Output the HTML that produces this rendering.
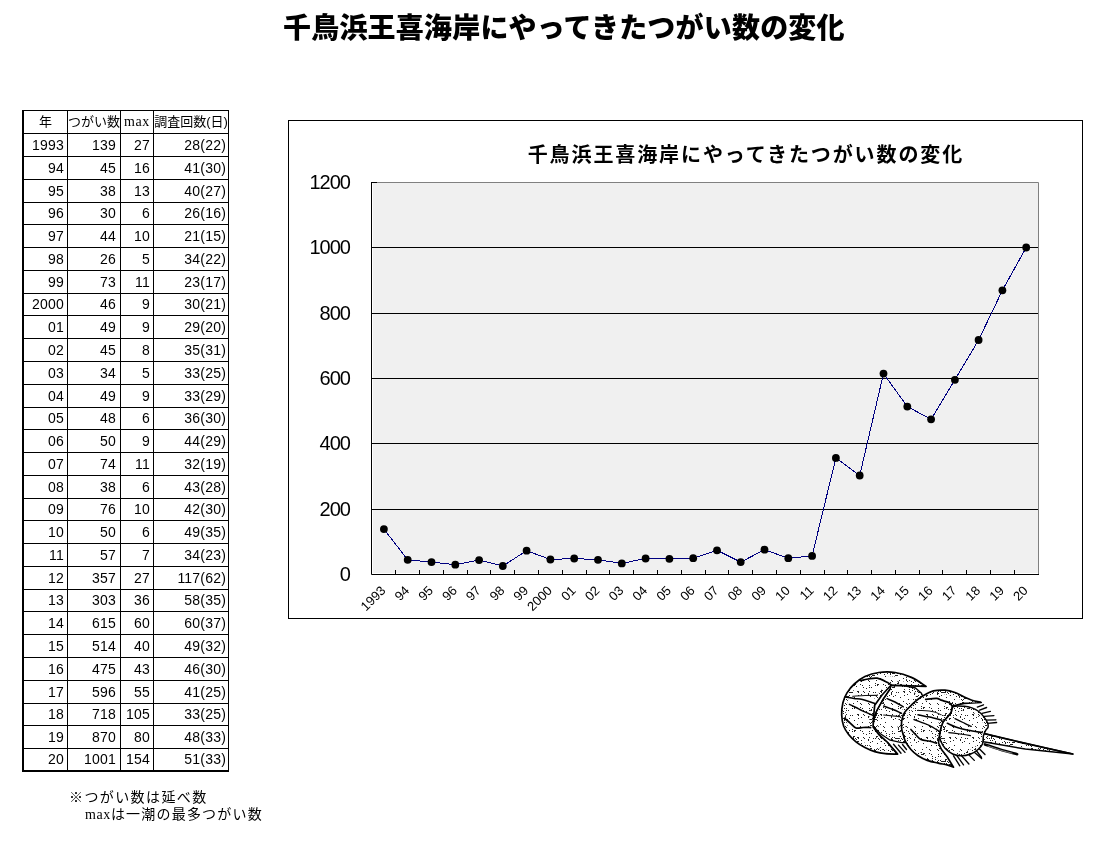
<!DOCTYPE html>
<html lang="ja"><head><meta charset="utf-8"><title>千鳥浜王喜海岸にやってきたつがい数の変化</title>
<style>
html,body{margin:0;padding:0;background:#fff;}
body{width:1103px;height:861px;position:relative;overflow:hidden;}
.t{position:absolute;}
#title{position:absolute;left:283px;top:9px;font-family:"Liberation Sans","Noto Sans CJK JP",sans-serif;font-weight:900;font-size:28px;line-height:40px;white-space:nowrap;color:#000;letter-spacing:0.2px;}
.hl{position:absolute;background:#000;height:1px;}
.vl{position:absolute;background:#000;width:1px;}
.c{position:absolute;white-space:nowrap;color:#000;font-family:"Liberation Sans","Noto Sans CJK JP",sans-serif;}
.n{font-size:14px;letter-spacing:0.2px;text-align:right;}
.hd{font-size:13px;text-align:center;font-family:"Liberation Sans","Noto Sans CJK JP",sans-serif;}
.note{position:absolute;font-family:"Liberation Sans","Noto Sans CJK JP",sans-serif;font-size:14px;line-height:17px;letter-spacing:1.2px;white-space:pre;color:#000;}
</style></head><body>
<div id="title">千鳥浜王喜海岸にやってきたつがい数の変化</div>

<div class="hl" style="left:22px;top:110px;width:207px"></div>
<div class="hl" style="left:22px;top:133px;width:207px"></div>
<div class="hl" style="left:22px;top:156px;width:207px"></div>
<div class="hl" style="left:22px;top:179px;width:207px"></div>
<div class="hl" style="left:22px;top:202px;width:207px"></div>
<div class="hl" style="left:22px;top:224px;width:207px"></div>
<div class="hl" style="left:22px;top:247px;width:207px"></div>
<div class="hl" style="left:22px;top:270px;width:207px"></div>
<div class="hl" style="left:22px;top:293px;width:207px"></div>
<div class="hl" style="left:22px;top:315px;width:207px"></div>
<div class="hl" style="left:22px;top:338px;width:207px"></div>
<div class="hl" style="left:22px;top:361px;width:207px"></div>
<div class="hl" style="left:22px;top:384px;width:207px"></div>
<div class="hl" style="left:22px;top:407px;width:207px"></div>
<div class="hl" style="left:22px;top:429px;width:207px"></div>
<div class="hl" style="left:22px;top:452px;width:207px"></div>
<div class="hl" style="left:22px;top:475px;width:207px"></div>
<div class="hl" style="left:22px;top:498px;width:207px"></div>
<div class="hl" style="left:22px;top:520px;width:207px"></div>
<div class="hl" style="left:22px;top:543px;width:207px"></div>
<div class="hl" style="left:22px;top:566px;width:207px"></div>
<div class="hl" style="left:22px;top:589px;width:207px"></div>
<div class="hl" style="left:22px;top:611px;width:207px"></div>
<div class="hl" style="left:22px;top:634px;width:207px"></div>
<div class="hl" style="left:22px;top:657px;width:207px"></div>
<div class="hl" style="left:22px;top:680px;width:207px"></div>
<div class="hl" style="left:22px;top:703px;width:207px"></div>
<div class="hl" style="left:22px;top:725px;width:207px"></div>
<div class="hl" style="left:22px;top:748px;width:207px"></div>
<div class="hl" style="left:22px;top:770px;width:207px;height:2px"></div>
<div class="vl" style="left:22px;top:110px;height:662px;width:2px"></div>
<div class="vl" style="left:67px;top:110px;height:662px"></div>
<div class="vl" style="left:120px;top:110px;height:662px"></div>
<div class="vl" style="left:153px;top:110px;height:662px"></div>
<div class="vl" style="left:228px;top:110px;height:662px"></div>
<div class="c hd" style="left:24px;width:43px;top:111px;height:22px;line-height:22px">年</div>
<div class="c hd" style="left:68px;width:52px;top:111px;height:22px;line-height:22px">つがい数</div>
<div class="c hd" style="left:121px;width:32px;top:111px;height:22px;line-height:22px"><span style="font-family:'Liberation Serif',serif;font-size:14px;letter-spacing:0.6px">max</span></div>
<div class="c hd" style="left:154px;width:74px;top:111px;height:22px;line-height:22px">調査回数(日)</div>
<div class="c n" style="left:24px;width:40px;top:134px;height:22px;line-height:22px">1993</div>
<div class="c n" style="left:68px;width:48px;top:134px;height:22px;line-height:22px">139</div>
<div class="c n" style="left:121px;width:29px;top:134px;height:22px;line-height:22px">27</div>
<div class="c n" style="left:154px;width:72px;top:134px;height:22px;line-height:22px">28(22)</div>
<div class="c n" style="left:24px;width:40px;top:157px;height:22px;line-height:22px">94</div>
<div class="c n" style="left:68px;width:48px;top:157px;height:22px;line-height:22px">45</div>
<div class="c n" style="left:121px;width:29px;top:157px;height:22px;line-height:22px">16</div>
<div class="c n" style="left:154px;width:72px;top:157px;height:22px;line-height:22px">41(30)</div>
<div class="c n" style="left:24px;width:40px;top:180px;height:22px;line-height:22px">95</div>
<div class="c n" style="left:68px;width:48px;top:180px;height:22px;line-height:22px">38</div>
<div class="c n" style="left:121px;width:29px;top:180px;height:22px;line-height:22px">13</div>
<div class="c n" style="left:154px;width:72px;top:180px;height:22px;line-height:22px">40(27)</div>
<div class="c n" style="left:24px;width:40px;top:203px;height:21px;line-height:21px">96</div>
<div class="c n" style="left:68px;width:48px;top:203px;height:21px;line-height:21px">30</div>
<div class="c n" style="left:121px;width:29px;top:203px;height:21px;line-height:21px">6</div>
<div class="c n" style="left:154px;width:72px;top:203px;height:21px;line-height:21px">26(16)</div>
<div class="c n" style="left:24px;width:40px;top:225px;height:22px;line-height:22px">97</div>
<div class="c n" style="left:68px;width:48px;top:225px;height:22px;line-height:22px">44</div>
<div class="c n" style="left:121px;width:29px;top:225px;height:22px;line-height:22px">10</div>
<div class="c n" style="left:154px;width:72px;top:225px;height:22px;line-height:22px">21(15)</div>
<div class="c n" style="left:24px;width:40px;top:248px;height:22px;line-height:22px">98</div>
<div class="c n" style="left:68px;width:48px;top:248px;height:22px;line-height:22px">26</div>
<div class="c n" style="left:121px;width:29px;top:248px;height:22px;line-height:22px">5</div>
<div class="c n" style="left:154px;width:72px;top:248px;height:22px;line-height:22px">34(22)</div>
<div class="c n" style="left:24px;width:40px;top:271px;height:22px;line-height:22px">99</div>
<div class="c n" style="left:68px;width:48px;top:271px;height:22px;line-height:22px">73</div>
<div class="c n" style="left:121px;width:29px;top:271px;height:22px;line-height:22px">11</div>
<div class="c n" style="left:154px;width:72px;top:271px;height:22px;line-height:22px">23(17)</div>
<div class="c n" style="left:24px;width:40px;top:294px;height:21px;line-height:21px">2000</div>
<div class="c n" style="left:68px;width:48px;top:294px;height:21px;line-height:21px">46</div>
<div class="c n" style="left:121px;width:29px;top:294px;height:21px;line-height:21px">9</div>
<div class="c n" style="left:154px;width:72px;top:294px;height:21px;line-height:21px">30(21)</div>
<div class="c n" style="left:24px;width:40px;top:316px;height:22px;line-height:22px">01</div>
<div class="c n" style="left:68px;width:48px;top:316px;height:22px;line-height:22px">49</div>
<div class="c n" style="left:121px;width:29px;top:316px;height:22px;line-height:22px">9</div>
<div class="c n" style="left:154px;width:72px;top:316px;height:22px;line-height:22px">29(20)</div>
<div class="c n" style="left:24px;width:40px;top:339px;height:22px;line-height:22px">02</div>
<div class="c n" style="left:68px;width:48px;top:339px;height:22px;line-height:22px">45</div>
<div class="c n" style="left:121px;width:29px;top:339px;height:22px;line-height:22px">8</div>
<div class="c n" style="left:154px;width:72px;top:339px;height:22px;line-height:22px">35(31)</div>
<div class="c n" style="left:24px;width:40px;top:362px;height:22px;line-height:22px">03</div>
<div class="c n" style="left:68px;width:48px;top:362px;height:22px;line-height:22px">34</div>
<div class="c n" style="left:121px;width:29px;top:362px;height:22px;line-height:22px">5</div>
<div class="c n" style="left:154px;width:72px;top:362px;height:22px;line-height:22px">33(25)</div>
<div class="c n" style="left:24px;width:40px;top:385px;height:22px;line-height:22px">04</div>
<div class="c n" style="left:68px;width:48px;top:385px;height:22px;line-height:22px">49</div>
<div class="c n" style="left:121px;width:29px;top:385px;height:22px;line-height:22px">9</div>
<div class="c n" style="left:154px;width:72px;top:385px;height:22px;line-height:22px">33(29)</div>
<div class="c n" style="left:24px;width:40px;top:408px;height:21px;line-height:21px">05</div>
<div class="c n" style="left:68px;width:48px;top:408px;height:21px;line-height:21px">48</div>
<div class="c n" style="left:121px;width:29px;top:408px;height:21px;line-height:21px">6</div>
<div class="c n" style="left:154px;width:72px;top:408px;height:21px;line-height:21px">36(30)</div>
<div class="c n" style="left:24px;width:40px;top:430px;height:22px;line-height:22px">06</div>
<div class="c n" style="left:68px;width:48px;top:430px;height:22px;line-height:22px">50</div>
<div class="c n" style="left:121px;width:29px;top:430px;height:22px;line-height:22px">9</div>
<div class="c n" style="left:154px;width:72px;top:430px;height:22px;line-height:22px">44(29)</div>
<div class="c n" style="left:24px;width:40px;top:453px;height:22px;line-height:22px">07</div>
<div class="c n" style="left:68px;width:48px;top:453px;height:22px;line-height:22px">74</div>
<div class="c n" style="left:121px;width:29px;top:453px;height:22px;line-height:22px">11</div>
<div class="c n" style="left:154px;width:72px;top:453px;height:22px;line-height:22px">32(19)</div>
<div class="c n" style="left:24px;width:40px;top:476px;height:22px;line-height:22px">08</div>
<div class="c n" style="left:68px;width:48px;top:476px;height:22px;line-height:22px">38</div>
<div class="c n" style="left:121px;width:29px;top:476px;height:22px;line-height:22px">6</div>
<div class="c n" style="left:154px;width:72px;top:476px;height:22px;line-height:22px">43(28)</div>
<div class="c n" style="left:24px;width:40px;top:499px;height:21px;line-height:21px">09</div>
<div class="c n" style="left:68px;width:48px;top:499px;height:21px;line-height:21px">76</div>
<div class="c n" style="left:121px;width:29px;top:499px;height:21px;line-height:21px">10</div>
<div class="c n" style="left:154px;width:72px;top:499px;height:21px;line-height:21px">42(30)</div>
<div class="c n" style="left:24px;width:40px;top:521px;height:22px;line-height:22px">10</div>
<div class="c n" style="left:68px;width:48px;top:521px;height:22px;line-height:22px">50</div>
<div class="c n" style="left:121px;width:29px;top:521px;height:22px;line-height:22px">6</div>
<div class="c n" style="left:154px;width:72px;top:521px;height:22px;line-height:22px">49(35)</div>
<div class="c n" style="left:24px;width:40px;top:544px;height:22px;line-height:22px">11</div>
<div class="c n" style="left:68px;width:48px;top:544px;height:22px;line-height:22px">57</div>
<div class="c n" style="left:121px;width:29px;top:544px;height:22px;line-height:22px">7</div>
<div class="c n" style="left:154px;width:72px;top:544px;height:22px;line-height:22px">34(23)</div>
<div class="c n" style="left:24px;width:40px;top:567px;height:22px;line-height:22px">12</div>
<div class="c n" style="left:68px;width:48px;top:567px;height:22px;line-height:22px">357</div>
<div class="c n" style="left:121px;width:29px;top:567px;height:22px;line-height:22px">27</div>
<div class="c n" style="left:154px;width:72px;top:567px;height:22px;line-height:22px">117(62)</div>
<div class="c n" style="left:24px;width:40px;top:590px;height:21px;line-height:21px">13</div>
<div class="c n" style="left:68px;width:48px;top:590px;height:21px;line-height:21px">303</div>
<div class="c n" style="left:121px;width:29px;top:590px;height:21px;line-height:21px">36</div>
<div class="c n" style="left:154px;width:72px;top:590px;height:21px;line-height:21px">58(35)</div>
<div class="c n" style="left:24px;width:40px;top:612px;height:22px;line-height:22px">14</div>
<div class="c n" style="left:68px;width:48px;top:612px;height:22px;line-height:22px">615</div>
<div class="c n" style="left:121px;width:29px;top:612px;height:22px;line-height:22px">60</div>
<div class="c n" style="left:154px;width:72px;top:612px;height:22px;line-height:22px">60(37)</div>
<div class="c n" style="left:24px;width:40px;top:635px;height:22px;line-height:22px">15</div>
<div class="c n" style="left:68px;width:48px;top:635px;height:22px;line-height:22px">514</div>
<div class="c n" style="left:121px;width:29px;top:635px;height:22px;line-height:22px">40</div>
<div class="c n" style="left:154px;width:72px;top:635px;height:22px;line-height:22px">49(32)</div>
<div class="c n" style="left:24px;width:40px;top:658px;height:22px;line-height:22px">16</div>
<div class="c n" style="left:68px;width:48px;top:658px;height:22px;line-height:22px">475</div>
<div class="c n" style="left:121px;width:29px;top:658px;height:22px;line-height:22px">43</div>
<div class="c n" style="left:154px;width:72px;top:658px;height:22px;line-height:22px">46(30)</div>
<div class="c n" style="left:24px;width:40px;top:681px;height:22px;line-height:22px">17</div>
<div class="c n" style="left:68px;width:48px;top:681px;height:22px;line-height:22px">596</div>
<div class="c n" style="left:121px;width:29px;top:681px;height:22px;line-height:22px">55</div>
<div class="c n" style="left:154px;width:72px;top:681px;height:22px;line-height:22px">41(25)</div>
<div class="c n" style="left:24px;width:40px;top:704px;height:21px;line-height:21px">18</div>
<div class="c n" style="left:68px;width:48px;top:704px;height:21px;line-height:21px">718</div>
<div class="c n" style="left:121px;width:29px;top:704px;height:21px;line-height:21px">105</div>
<div class="c n" style="left:154px;width:72px;top:704px;height:21px;line-height:21px">33(25)</div>
<div class="c n" style="left:24px;width:40px;top:726px;height:22px;line-height:22px">19</div>
<div class="c n" style="left:68px;width:48px;top:726px;height:22px;line-height:22px">870</div>
<div class="c n" style="left:121px;width:29px;top:726px;height:22px;line-height:22px">80</div>
<div class="c n" style="left:154px;width:72px;top:726px;height:22px;line-height:22px">48(33)</div>
<div class="c n" style="left:24px;width:40px;top:749px;height:21px;line-height:21px">20</div>
<div class="c n" style="left:68px;width:48px;top:749px;height:21px;line-height:21px">1001</div>
<div class="c n" style="left:121px;width:29px;top:749px;height:21px;line-height:21px">154</div>
<div class="c n" style="left:154px;width:72px;top:749px;height:21px;line-height:21px">51(33)</div>
<div class="note" style="left:69px;top:789px;letter-spacing:1.4px">※つがい数は延べ数</div>
<div class="note" style="left:85px;top:806px"><span style="font-family:'Liberation Serif',serif;font-size:14px;letter-spacing:0.6px">max</span>は一潮の最多つがい数</div>
<svg style="position:absolute;left:0;top:0" width="1103" height="861">
<rect x="288.5" y="120.5" width="794" height="498" fill="#fff" stroke="#000" stroke-width="1"/>
<rect x="373" y="183" width="665" height="390" fill="#f0f0f0"/>
<path d="M371.5 182.5H1038.5V574" fill="none" stroke="#808080" stroke-width="1"/>
<path d="M372 509.5H1038" stroke="#000" stroke-width="1"/>
<path d="M372 443.5H1038" stroke="#000" stroke-width="1"/>
<path d="M372 378.5H1038" stroke="#000" stroke-width="1"/>
<path d="M372 313.5H1038" stroke="#000" stroke-width="1"/>
<path d="M372 247.5H1038" stroke="#000" stroke-width="1"/>
<path d="M371.5 182V574.5H1039" fill="none" stroke="#000" stroke-width="1"/>
<path d="M371 182.5H377" stroke="#000" stroke-width="1"/>
<path d="M395.5 570V574" stroke="#000" stroke-width="1"/>
<path d="M419.5 570V574" stroke="#000" stroke-width="1"/>
<path d="M443.5 570V574" stroke="#000" stroke-width="1"/>
<path d="M467.5 570V574" stroke="#000" stroke-width="1"/>
<path d="M490.5 570V574" stroke="#000" stroke-width="1"/>
<path d="M514.5 570V574" stroke="#000" stroke-width="1"/>
<path d="M538.5 570V574" stroke="#000" stroke-width="1"/>
<path d="M562.5 570V574" stroke="#000" stroke-width="1"/>
<path d="M586.5 570V574" stroke="#000" stroke-width="1"/>
<path d="M609.5 570V574" stroke="#000" stroke-width="1"/>
<path d="M633.5 570V574" stroke="#000" stroke-width="1"/>
<path d="M657.5 570V574" stroke="#000" stroke-width="1"/>
<path d="M681.5 570V574" stroke="#000" stroke-width="1"/>
<path d="M705.5 570V574" stroke="#000" stroke-width="1"/>
<path d="M728.5 570V574" stroke="#000" stroke-width="1"/>
<path d="M752.5 570V574" stroke="#000" stroke-width="1"/>
<path d="M776.5 570V574" stroke="#000" stroke-width="1"/>
<path d="M800.5 570V574" stroke="#000" stroke-width="1"/>
<path d="M824.5 570V574" stroke="#000" stroke-width="1"/>
<path d="M847.5 570V574" stroke="#000" stroke-width="1"/>
<path d="M871.5 570V574" stroke="#000" stroke-width="1"/>
<path d="M895.5 570V574" stroke="#000" stroke-width="1"/>
<path d="M919.5 570V574" stroke="#000" stroke-width="1"/>
<path d="M942.5 570V574" stroke="#000" stroke-width="1"/>
<path d="M966.5 570V574" stroke="#000" stroke-width="1"/>
<path d="M990.5 570V574" stroke="#000" stroke-width="1"/>
<path d="M1014.5 570V574" stroke="#000" stroke-width="1"/>
<text x="349.9" y="580.8" text-anchor="end" font-family="Liberation Sans, sans-serif" font-size="20" letter-spacing="-1.0">0</text>
<text x="349.9" y="515.5" text-anchor="end" font-family="Liberation Sans, sans-serif" font-size="20" letter-spacing="-1.0">200</text>
<text x="349.9" y="450.1" text-anchor="end" font-family="Liberation Sans, sans-serif" font-size="20" letter-spacing="-1.0">400</text>
<text x="349.9" y="384.8" text-anchor="end" font-family="Liberation Sans, sans-serif" font-size="20" letter-spacing="-1.0">600</text>
<text x="349.9" y="319.5" text-anchor="end" font-family="Liberation Sans, sans-serif" font-size="20" letter-spacing="-1.0">800</text>
<text x="349.9" y="254.1" text-anchor="end" font-family="Liberation Sans, sans-serif" font-size="20" letter-spacing="-1.0">1000</text>
<text x="349.9" y="188.8" text-anchor="end" font-family="Liberation Sans, sans-serif" font-size="20" letter-spacing="-1.0">1200</text>
<polyline fill="none" stroke="#000080" stroke-width="1" shape-rendering="crispEdges" points="383.9,529.1 407.7,559.8 431.5,562.1 455.3,564.7 479.1,560.1 502.8,566.0 526.6,550.7 550.4,559.5 574.2,558.5 598.0,559.8 621.8,563.4 645.6,558.5 669.4,558.8 693.2,558.2 717.0,550.3 740.7,562.1 764.5,549.7 788.3,558.2 812.1,555.9 835.9,457.9 859.7,475.5 883.5,373.6 907.3,406.6 931.1,419.3 954.9,379.8 978.6,340.0 1002.4,290.3 1026.2,247.5"/>
<circle cx="383.9" cy="529.1" r="3.9" fill="#000"/>
<circle cx="407.7" cy="559.8" r="3.9" fill="#000"/>
<circle cx="431.5" cy="562.1" r="3.9" fill="#000"/>
<circle cx="455.3" cy="564.7" r="3.9" fill="#000"/>
<circle cx="479.1" cy="560.1" r="3.9" fill="#000"/>
<circle cx="502.8" cy="566.0" r="3.9" fill="#000"/>
<circle cx="526.6" cy="550.7" r="3.9" fill="#000"/>
<circle cx="550.4" cy="559.5" r="3.9" fill="#000"/>
<circle cx="574.2" cy="558.5" r="3.9" fill="#000"/>
<circle cx="598.0" cy="559.8" r="3.9" fill="#000"/>
<circle cx="621.8" cy="563.4" r="3.9" fill="#000"/>
<circle cx="645.6" cy="558.5" r="3.9" fill="#000"/>
<circle cx="669.4" cy="558.8" r="3.9" fill="#000"/>
<circle cx="693.2" cy="558.2" r="3.9" fill="#000"/>
<circle cx="717.0" cy="550.3" r="3.9" fill="#000"/>
<circle cx="740.7" cy="562.1" r="3.9" fill="#000"/>
<circle cx="764.5" cy="549.7" r="3.9" fill="#000"/>
<circle cx="788.3" cy="558.2" r="3.9" fill="#000"/>
<circle cx="812.1" cy="555.9" r="3.9" fill="#000"/>
<circle cx="835.9" cy="457.9" r="3.9" fill="#000"/>
<circle cx="859.7" cy="475.5" r="3.9" fill="#000"/>
<circle cx="883.5" cy="373.6" r="3.9" fill="#000"/>
<circle cx="907.3" cy="406.6" r="3.9" fill="#000"/>
<circle cx="931.1" cy="419.3" r="3.9" fill="#000"/>
<circle cx="954.9" cy="379.8" r="3.9" fill="#000"/>
<circle cx="978.6" cy="340.0" r="3.9" fill="#000"/>
<circle cx="1002.4" cy="290.3" r="3.9" fill="#000"/>
<circle cx="1026.2" cy="247.5" r="3.9" fill="#000"/>
<text transform="translate(379.8,584.7) rotate(-45)" text-anchor="end" dy="9.3" font-family="Liberation Sans, sans-serif" font-size="13">1993</text>
<text transform="translate(403.6,584.7) rotate(-45)" text-anchor="end" dy="9.3" font-family="Liberation Sans, sans-serif" font-size="13">94</text>
<text transform="translate(427.4,584.7) rotate(-45)" text-anchor="end" dy="9.3" font-family="Liberation Sans, sans-serif" font-size="13">95</text>
<text transform="translate(451.2,584.7) rotate(-45)" text-anchor="end" dy="9.3" font-family="Liberation Sans, sans-serif" font-size="13">96</text>
<text transform="translate(475.0,584.7) rotate(-45)" text-anchor="end" dy="9.3" font-family="Liberation Sans, sans-serif" font-size="13">97</text>
<text transform="translate(498.7,584.7) rotate(-45)" text-anchor="end" dy="9.3" font-family="Liberation Sans, sans-serif" font-size="13">98</text>
<text transform="translate(522.5,584.7) rotate(-45)" text-anchor="end" dy="9.3" font-family="Liberation Sans, sans-serif" font-size="13">99</text>
<text transform="translate(546.3,584.7) rotate(-45)" text-anchor="end" dy="9.3" font-family="Liberation Sans, sans-serif" font-size="13">2000</text>
<text transform="translate(570.1,584.7) rotate(-45)" text-anchor="end" dy="9.3" font-family="Liberation Sans, sans-serif" font-size="13">01</text>
<text transform="translate(593.9,584.7) rotate(-45)" text-anchor="end" dy="9.3" font-family="Liberation Sans, sans-serif" font-size="13">02</text>
<text transform="translate(617.7,584.7) rotate(-45)" text-anchor="end" dy="9.3" font-family="Liberation Sans, sans-serif" font-size="13">03</text>
<text transform="translate(641.5,584.7) rotate(-45)" text-anchor="end" dy="9.3" font-family="Liberation Sans, sans-serif" font-size="13">04</text>
<text transform="translate(665.3,584.7) rotate(-45)" text-anchor="end" dy="9.3" font-family="Liberation Sans, sans-serif" font-size="13">05</text>
<text transform="translate(689.1,584.7) rotate(-45)" text-anchor="end" dy="9.3" font-family="Liberation Sans, sans-serif" font-size="13">06</text>
<text transform="translate(712.9,584.7) rotate(-45)" text-anchor="end" dy="9.3" font-family="Liberation Sans, sans-serif" font-size="13">07</text>
<text transform="translate(736.6,584.7) rotate(-45)" text-anchor="end" dy="9.3" font-family="Liberation Sans, sans-serif" font-size="13">08</text>
<text transform="translate(760.4,584.7) rotate(-45)" text-anchor="end" dy="9.3" font-family="Liberation Sans, sans-serif" font-size="13">09</text>
<text transform="translate(784.2,584.7) rotate(-45)" text-anchor="end" dy="9.3" font-family="Liberation Sans, sans-serif" font-size="13">10</text>
<text transform="translate(808.0,584.7) rotate(-45)" text-anchor="end" dy="9.3" font-family="Liberation Sans, sans-serif" font-size="13">11</text>
<text transform="translate(831.8,584.7) rotate(-45)" text-anchor="end" dy="9.3" font-family="Liberation Sans, sans-serif" font-size="13">12</text>
<text transform="translate(855.6,584.7) rotate(-45)" text-anchor="end" dy="9.3" font-family="Liberation Sans, sans-serif" font-size="13">13</text>
<text transform="translate(879.4,584.7) rotate(-45)" text-anchor="end" dy="9.3" font-family="Liberation Sans, sans-serif" font-size="13">14</text>
<text transform="translate(903.2,584.7) rotate(-45)" text-anchor="end" dy="9.3" font-family="Liberation Sans, sans-serif" font-size="13">15</text>
<text transform="translate(927.0,584.7) rotate(-45)" text-anchor="end" dy="9.3" font-family="Liberation Sans, sans-serif" font-size="13">16</text>
<text transform="translate(950.8,584.7) rotate(-45)" text-anchor="end" dy="9.3" font-family="Liberation Sans, sans-serif" font-size="13">17</text>
<text transform="translate(974.5,584.7) rotate(-45)" text-anchor="end" dy="9.3" font-family="Liberation Sans, sans-serif" font-size="13">18</text>
<text transform="translate(998.3,584.7) rotate(-45)" text-anchor="end" dy="9.3" font-family="Liberation Sans, sans-serif" font-size="13">19</text>
<text transform="translate(1022.1,584.7) rotate(-45)" text-anchor="end" dy="9.3" font-family="Liberation Sans, sans-serif" font-size="13">20</text>
<defs><pattern id="st" width="23" height="23" patternUnits="userSpaceOnUse"><g fill="#222"><rect x="1" y="2" width="1" height="1"/><rect x="1" y="16" width="1" height="1"/><rect x="1" y="18" width="1" height="1"/><rect x="2" y="13" width="1" height="1"/><rect x="3" y="7" width="1" height="1"/><rect x="3" y="17" width="1" height="1"/><rect x="3" y="18" width="1" height="1"/><rect x="4" y="17" width="1" height="1"/><rect x="6" y="1" width="1" height="1"/><rect x="6" y="11" width="1" height="1"/><rect x="7" y="1" width="1" height="1"/><rect x="7" y="2" width="1" height="1"/><rect x="7" y="5" width="1" height="1"/><rect x="9" y="13" width="1" height="1"/><rect x="9" y="17" width="1" height="1"/><rect x="10" y="4" width="1" height="1"/><rect x="10" y="14" width="1" height="1"/><rect x="11" y="9" width="1" height="1"/><rect x="11" y="18" width="1" height="1"/><rect x="12" y="1" width="1" height="1"/><rect x="12" y="20" width="1" height="1"/><rect x="13" y="2" width="1" height="1"/><rect x="15" y="21" width="1" height="1"/><rect x="17" y="3" width="1" height="1"/><rect x="17" y="4" width="1" height="1"/><rect x="17" y="13" width="1" height="1"/><rect x="18" y="1" width="1" height="1"/><rect x="18" y="14" width="1" height="1"/><rect x="18" y="18" width="1" height="1"/><rect x="18" y="20" width="1" height="1"/><rect x="19" y="6" width="1" height="1"/><rect x="20" y="20" width="1" height="1"/><rect x="21" y="5" width="1" height="1"/><rect x="22" y="2" width="1" height="1"/></g></pattern></defs>
<defs><pattern id="st2" width="23" height="23" patternUnits="userSpaceOnUse"><g fill="#222"><rect x="0" y="2" width="1" height="1"/><rect x="0" y="6" width="1" height="1"/><rect x="0" y="8" width="1" height="1"/><rect x="0" y="13" width="1" height="1"/><rect x="0" y="14" width="1" height="1"/><rect x="0" y="16" width="1" height="1"/><rect x="1" y="4" width="1" height="1"/><rect x="1" y="6" width="1" height="1"/><rect x="1" y="14" width="1" height="1"/><rect x="1" y="15" width="1" height="1"/><rect x="2" y="0" width="1" height="1"/><rect x="2" y="1" width="1" height="1"/><rect x="2" y="2" width="1" height="1"/><rect x="2" y="6" width="1" height="1"/><rect x="2" y="18" width="1" height="1"/><rect x="3" y="0" width="1" height="1"/><rect x="3" y="4" width="1" height="1"/><rect x="3" y="12" width="1" height="1"/><rect x="4" y="2" width="1" height="1"/><rect x="4" y="13" width="1" height="1"/><rect x="5" y="3" width="1" height="1"/><rect x="5" y="12" width="1" height="1"/><rect x="5" y="19" width="1" height="1"/><rect x="6" y="5" width="1" height="1"/><rect x="6" y="6" width="1" height="1"/><rect x="6" y="14" width="1" height="1"/><rect x="7" y="0" width="1" height="1"/><rect x="7" y="19" width="1" height="1"/><rect x="7" y="22" width="1" height="1"/><rect x="8" y="0" width="1" height="1"/><rect x="8" y="13" width="1" height="1"/><rect x="9" y="10" width="1" height="1"/><rect x="9" y="12" width="1" height="1"/><rect x="10" y="2" width="1" height="1"/><rect x="10" y="7" width="1" height="1"/><rect x="10" y="14" width="1" height="1"/><rect x="12" y="3" width="1" height="1"/><rect x="12" y="13" width="1" height="1"/><rect x="12" y="22" width="1" height="1"/><rect x="13" y="6" width="1" height="1"/><rect x="14" y="9" width="1" height="1"/><rect x="14" y="14" width="1" height="1"/><rect x="14" y="17" width="1" height="1"/><rect x="14" y="20" width="1" height="1"/><rect x="15" y="0" width="1" height="1"/><rect x="15" y="5" width="1" height="1"/><rect x="16" y="6" width="1" height="1"/><rect x="16" y="7" width="1" height="1"/><rect x="16" y="9" width="1" height="1"/><rect x="16" y="15" width="1" height="1"/><rect x="16" y="18" width="1" height="1"/><rect x="17" y="2" width="1" height="1"/><rect x="17" y="22" width="1" height="1"/><rect x="18" y="3" width="1" height="1"/><rect x="18" y="6" width="1" height="1"/><rect x="18" y="9" width="1" height="1"/><rect x="18" y="20" width="1" height="1"/><rect x="19" y="10" width="1" height="1"/><rect x="19" y="12" width="1" height="1"/><rect x="19" y="20" width="1" height="1"/><rect x="20" y="1" width="1" height="1"/><rect x="20" y="6" width="1" height="1"/><rect x="20" y="9" width="1" height="1"/><rect x="20" y="12" width="1" height="1"/><rect x="20" y="19" width="1" height="1"/><rect x="21" y="0" width="1" height="1"/><rect x="21" y="2" width="1" height="1"/><rect x="21" y="8" width="1" height="1"/><rect x="21" y="17" width="1" height="1"/><rect x="22" y="8" width="1" height="1"/></g></pattern></defs>
<clipPath id="cp1"><path d="M891.0,685.6 L903.3,685.6 L915.5,688.0 L921.2,692.9 L922.9,696.2 L911.4,705.2 L903.3,715.0 L901.6,726.0 L903.3,734.5 L905.7,742.6 L901.6,742.6 L890.2,740.2 L880.4,733.7 L873.1,726.3 L873.9,719.8 L876.3,711.7 L883.0,699.0 L890.2,688.8 Z"/></clipPath>
<path d="M891.0,685.6 L903.3,685.6 L915.5,688.0 L921.2,692.9 L922.9,696.2 L911.4,705.2 L903.3,715.0 L901.6,726.0 L903.3,734.5 L905.7,742.6 L901.6,742.6 L890.2,740.2 L880.4,733.7 L873.1,726.3 L873.9,719.8 L876.3,711.7 L883.0,699.0 L890.2,688.8 Z" fill="#fff"/><path d="M891.0,685.6 L903.3,685.6 L915.5,688.0 L921.2,692.9 L922.9,696.2 L911.4,705.2 L903.3,715.0 L901.6,726.0 L903.3,734.5 L905.7,742.6 L901.6,742.6 L890.2,740.2 L880.4,733.7 L873.1,726.3 L873.9,719.8 L876.3,711.7 L883.0,699.0 L890.2,688.8 Z" fill="url(#st)"/>
<path d="M891.0,685.6 L903.3,685.6 L915.5,688.0 L921.2,692.9 L922.9,696.2 L911.4,705.2 L903.3,715.0 L901.6,726.0 L903.3,734.5 L905.7,742.6 L901.6,742.6 L890.2,740.2 L880.4,733.7 L873.1,726.3 L873.9,719.8 L876.3,711.7 L883.0,699.0 L890.2,688.8 Z" fill="none" stroke="url(#st2)" stroke-width="8" clip-path="url(#cp1)"/>
<path d="M891.0,685.6 L903.3,685.6 L915.5,688.0 L921.2,692.9 L922.9,696.2 L911.4,705.2 L903.3,715.0 L901.6,726.0 L903.3,734.5 L905.7,742.6 L901.6,742.6 L890.2,740.2 L880.4,733.7 L873.1,726.3 L873.9,719.8 L876.3,711.7 L883.0,699.0 L890.2,688.8 Z" fill="none" stroke="#000" stroke-width="1.3" stroke-linejoin="round"/>
<clipPath id="cp2"><path d="M926.1,686.4 C923.6,684.9 916.6,679.7 911.4,677.4 C906.2,675.1 900.5,673.3 895.1,672.5 C889.7,671.7 883.8,671.8 878.8,672.5 C873.8,673.2 869.0,674.7 864.9,676.6 C860.8,678.5 857.3,681.3 854.3,684.0 C851.3,686.7 848.9,689.8 847.0,692.9 C845.1,696.0 843.8,699.0 842.9,702.7 C842.0,706.4 841.6,711.1 841.7,715.0 C841.8,718.9 842.6,723.0 843.7,726.3 C844.9,729.5 846.6,731.9 848.6,734.5 C850.6,737.1 853.3,739.6 856.0,741.8 C858.7,744.0 861.8,745.9 864.9,747.5 C868.0,749.1 871.3,750.6 874.7,751.6 C878.1,752.6 881.5,753.3 885.3,753.7 C889.1,754.1 895.5,754.0 897.6,754.1 L887.0,741.8 L878.8,734.5 L873.1,727.1 L873.3,719.8 L874.7,705.2 L882.0,695.0 L891.0,685.2 L910.0,685.8 L926.1,686.4 Z"/></clipPath>
<path d="M926.1,686.4 C923.6,684.9 916.6,679.7 911.4,677.4 C906.2,675.1 900.5,673.3 895.1,672.5 C889.7,671.7 883.8,671.8 878.8,672.5 C873.8,673.2 869.0,674.7 864.9,676.6 C860.8,678.5 857.3,681.3 854.3,684.0 C851.3,686.7 848.9,689.8 847.0,692.9 C845.1,696.0 843.8,699.0 842.9,702.7 C842.0,706.4 841.6,711.1 841.7,715.0 C841.8,718.9 842.6,723.0 843.7,726.3 C844.9,729.5 846.6,731.9 848.6,734.5 C850.6,737.1 853.3,739.6 856.0,741.8 C858.7,744.0 861.8,745.9 864.9,747.5 C868.0,749.1 871.3,750.6 874.7,751.6 C878.1,752.6 881.5,753.3 885.3,753.7 C889.1,754.1 895.5,754.0 897.6,754.1 L887.0,741.8 L878.8,734.5 L873.1,727.1 L873.3,719.8 L874.7,705.2 L882.0,695.0 L891.0,685.2 L910.0,685.8 L926.1,686.4 Z" fill="#fff"/><path d="M926.1,686.4 C923.6,684.9 916.6,679.7 911.4,677.4 C906.2,675.1 900.5,673.3 895.1,672.5 C889.7,671.7 883.8,671.8 878.8,672.5 C873.8,673.2 869.0,674.7 864.9,676.6 C860.8,678.5 857.3,681.3 854.3,684.0 C851.3,686.7 848.9,689.8 847.0,692.9 C845.1,696.0 843.8,699.0 842.9,702.7 C842.0,706.4 841.6,711.1 841.7,715.0 C841.8,718.9 842.6,723.0 843.7,726.3 C844.9,729.5 846.6,731.9 848.6,734.5 C850.6,737.1 853.3,739.6 856.0,741.8 C858.7,744.0 861.8,745.9 864.9,747.5 C868.0,749.1 871.3,750.6 874.7,751.6 C878.1,752.6 881.5,753.3 885.3,753.7 C889.1,754.1 895.5,754.0 897.6,754.1 L887.0,741.8 L878.8,734.5 L873.1,727.1 L873.3,719.8 L874.7,705.2 L882.0,695.0 L891.0,685.2 L910.0,685.8 L926.1,686.4 Z" fill="url(#st)"/>
<path d="M926.1,686.4 C923.6,684.9 916.6,679.7 911.4,677.4 C906.2,675.1 900.5,673.3 895.1,672.5 C889.7,671.7 883.8,671.8 878.8,672.5 C873.8,673.2 869.0,674.7 864.9,676.6 C860.8,678.5 857.3,681.3 854.3,684.0 C851.3,686.7 848.9,689.8 847.0,692.9 C845.1,696.0 843.8,699.0 842.9,702.7 C842.0,706.4 841.6,711.1 841.7,715.0 C841.8,718.9 842.6,723.0 843.7,726.3 C844.9,729.5 846.6,731.9 848.6,734.5 C850.6,737.1 853.3,739.6 856.0,741.8 C858.7,744.0 861.8,745.9 864.9,747.5 C868.0,749.1 871.3,750.6 874.7,751.6 C878.1,752.6 881.5,753.3 885.3,753.7 C889.1,754.1 895.5,754.0 897.6,754.1 L887.0,741.8 L878.8,734.5 L873.1,727.1 L873.3,719.8 L874.7,705.2 L882.0,695.0 L891.0,685.2 L910.0,685.8 L926.1,686.4 Z" fill="none" stroke="url(#st2)" stroke-width="8" clip-path="url(#cp2)"/>
<path d="M926.1,686.4 C923.6,684.9 916.6,679.7 911.4,677.4 C906.2,675.1 900.5,673.3 895.1,672.5 C889.7,671.7 883.8,671.8 878.8,672.5 C873.8,673.2 869.0,674.7 864.9,676.6 C860.8,678.5 857.3,681.3 854.3,684.0 C851.3,686.7 848.9,689.8 847.0,692.9 C845.1,696.0 843.8,699.0 842.9,702.7 C842.0,706.4 841.6,711.1 841.7,715.0 C841.8,718.9 842.6,723.0 843.7,726.3 C844.9,729.5 846.6,731.9 848.6,734.5 C850.6,737.1 853.3,739.6 856.0,741.8 C858.7,744.0 861.8,745.9 864.9,747.5 C868.0,749.1 871.3,750.6 874.7,751.6 C878.1,752.6 881.5,753.3 885.3,753.7 C889.1,754.1 895.5,754.0 897.6,754.1 L887.0,741.8 L878.8,734.5 L873.1,727.1 L873.3,719.8 L874.7,705.2 L882.0,695.0 L891.0,685.2 L910.0,685.8 L926.1,686.4 Z" fill="none" stroke="#000" stroke-width="1.7" stroke-linejoin="round"/>
<path d="M890.2,688.8 C889.0,690.7 885.3,696.2 883.0,700.0 C880.7,703.8 877.8,708.4 876.3,711.7 C874.8,715.0 874.2,718.6 873.8,720.0" fill="none" stroke="#000" stroke-width="1.55" stroke-linecap="round"/>
<path d="M860.8,680.7 C862.0,680.4 865.3,679.4 868.0,679.0 C870.7,678.6 874.0,677.7 877.2,678.2 C880.4,678.8 884.7,681.2 887.0,682.3 C889.3,683.4 890.3,684.4 891.0,684.8" fill="none" stroke="#000" stroke-width="1.75" stroke-linecap="round"/>
<path d="M845.3,697.0 C846.8,697.2 851.1,698.1 854.0,698.5 C856.9,698.9 859.0,698.7 862.5,699.5 C866.0,700.3 872.7,702.8 874.7,703.5" fill="none" stroke="#000" stroke-width="1.65" stroke-linecap="round"/>
<path d="M852.7,696.2 C854.8,696.1 860.9,695.6 865.0,695.5 C869.1,695.4 875.2,695.4 877.2,695.4" fill="none" stroke="#111" stroke-width="1.10" stroke-linecap="round"/>
<path d="M849.4,704.3 C850.5,704.8 853.8,706.4 856.0,707.5 C858.2,708.6 859.8,709.6 862.5,710.9 C865.2,712.1 870.7,714.3 872.3,715.0" fill="none" stroke="#000" stroke-width="1.45" stroke-linecap="round"/>
<path d="M844.5,718.2 C845.5,719.0 848.3,721.5 850.2,723.1 C852.1,724.7 853.9,727.3 856.0,728.0 C858.1,728.7 860.6,727.6 863.0,727.5 C865.4,727.4 869.3,727.5 870.6,727.5" fill="none" stroke="#000" stroke-width="1.75" stroke-linecap="round"/>
<path d="M887.0,698.6 C888.3,699.2 892.3,700.6 895.0,702.0 C897.7,703.4 901.9,706.0 903.3,706.8" fill="none" stroke="#000" stroke-width="1.45" stroke-linecap="round"/>
<path d="M883.7,706.0 C885.2,706.6 890.0,708.3 893.0,709.5 C896.0,710.7 900.2,712.7 901.6,713.3" fill="none" stroke="#000" stroke-width="1.45" stroke-linecap="round"/>
<path d="M883.7,715.0 L900.0,716.6" fill="none" stroke="#111" stroke-width="1.20" stroke-linecap="round"/>
<path d="M893.5,744.3 L901.0,753.2" fill="none" stroke="#000" stroke-width="1.35" stroke-linecap="round"/>
<path d="M898.5,745.1 L905.0,752.4" fill="none" stroke="#000" stroke-width="1.35" stroke-linecap="round"/>
<path d="M902.5,744.5 L906.5,749.5" fill="none" stroke="#000" stroke-width="1.35" stroke-linecap="round"/>
<path d="M888.0,743.0 L896.5,753.0" fill="none" stroke="#000" stroke-width="1.35" stroke-linecap="round"/>
<path d="M982.3,733.0 L1030.0,744.3 L1072.8,754.0 L1025.3,749.0 L983.4,741.8 Z" fill="#fff"/><path d="M982.3,733.0 L1030.0,744.3 L1072.8,754.0 L1025.3,749.0 L983.4,741.8 Z" fill="url(#st2)" stroke="#000" stroke-width="1.5" stroke-linejoin="round"/>
<path d="M983.0,733.4 C990.8,735.3 1015.0,741.2 1030.0,744.6 C1045.0,748.0 1065.7,752.4 1072.8,754.0" fill="none" stroke="#000" stroke-width="1.55" stroke-linecap="round"/>
<path d="M985.0,744.4 C987.5,745.2 994.6,747.9 1000.0,749.5 C1005.4,751.1 1014.2,753.4 1017.1,754.2" fill="none" stroke="#000" stroke-width="2.65" stroke-linecap="round"/>
<path d="M988.0,746.0 C990.0,746.7 996.0,748.8 1000.0,750.0 C1004.0,751.2 1010.0,752.7 1012.0,753.2" fill="none" stroke="#bbb" stroke-width="0.70" stroke-linecap="round"/>
<path d="M975.5,749.5 L981.5,757.5" fill="none" stroke="#000" stroke-width="1.35" stroke-linecap="round"/>
<path d="M978.5,748.0 L985.0,754.5" fill="none" stroke="#000" stroke-width="1.35" stroke-linecap="round"/>
<path d="M977.3,707.1 L983.5,704.8" fill="none" stroke="#000" stroke-width="1.35" stroke-linecap="round"/>
<path d="M979.7,710.2 L986.6,707.5" fill="none" stroke="#000" stroke-width="1.35" stroke-linecap="round"/>
<path d="M982.0,713.3 L990.4,711.4" fill="none" stroke="#000" stroke-width="1.35" stroke-linecap="round"/>
<path d="M984.3,716.4 L993.9,715.6" fill="none" stroke="#000" stroke-width="1.35" stroke-linecap="round"/>
<path d="M985.8,720.2 L995.8,719.8" fill="none" stroke="#000" stroke-width="1.35" stroke-linecap="round"/>
<path d="M987.4,723.3 L996.6,722.5" fill="none" stroke="#000" stroke-width="1.35" stroke-linecap="round"/>
<path d="M953.5,755.8 L959.8,765.8" fill="none" stroke="#000" stroke-width="1.35" stroke-linecap="round"/>
<path d="M957.1,755.8 L963.5,764.9" fill="none" stroke="#000" stroke-width="1.35" stroke-linecap="round"/>
<path d="M961.6,755.8 L968.9,764.0" fill="none" stroke="#000" stroke-width="1.35" stroke-linecap="round"/>
<path d="M968.9,754.9 L974.3,760.4" fill="none" stroke="#000" stroke-width="1.35" stroke-linecap="round"/>
<path d="M974.3,752.2 L981.6,758.5" fill="none" stroke="#000" stroke-width="1.35" stroke-linecap="round"/>
<clipPath id="cp3"><path d="M953.4,706.5 C955.6,705.5 961.1,706.1 964.2,706.3 C967.3,706.5 969.6,707.1 971.9,707.9 C974.2,708.7 976.2,709.6 978.1,711.0 C980.0,712.4 982.0,714.5 983.5,716.4 C985.0,718.3 986.6,720.7 987.4,722.5 C988.2,724.3 988.4,725.9 988.1,727.2 C987.8,728.5 986.6,728.8 985.8,730.2 C985.0,731.7 983.9,733.6 983.4,735.9 C982.9,738.2 983.4,741.7 982.5,744.0 C981.6,746.3 980.0,747.8 978.0,749.5 C976.0,751.2 973.4,753.0 970.7,754.0 C968.0,755.0 964.6,755.8 961.6,755.8 C958.6,755.8 955.3,755.2 952.6,754.0 C949.9,752.8 947.3,750.7 945.3,748.6 C943.3,746.5 941.8,743.6 940.8,741.3 C939.8,739.0 939.5,737.4 939.5,735.0 C939.5,732.6 940.5,729.4 941.1,727.2 C941.7,725.0 942.0,723.7 943.0,722.0 C944.0,720.3 945.9,718.7 947.3,717.1 C948.6,715.5 950.1,714.3 951.1,712.5 C952.1,710.7 951.2,707.5 953.4,706.5 Z"/></clipPath>
<path d="M953.4,706.5 C955.6,705.5 961.1,706.1 964.2,706.3 C967.3,706.5 969.6,707.1 971.9,707.9 C974.2,708.7 976.2,709.6 978.1,711.0 C980.0,712.4 982.0,714.5 983.5,716.4 C985.0,718.3 986.6,720.7 987.4,722.5 C988.2,724.3 988.4,725.9 988.1,727.2 C987.8,728.5 986.6,728.8 985.8,730.2 C985.0,731.7 983.9,733.6 983.4,735.9 C982.9,738.2 983.4,741.7 982.5,744.0 C981.6,746.3 980.0,747.8 978.0,749.5 C976.0,751.2 973.4,753.0 970.7,754.0 C968.0,755.0 964.6,755.8 961.6,755.8 C958.6,755.8 955.3,755.2 952.6,754.0 C949.9,752.8 947.3,750.7 945.3,748.6 C943.3,746.5 941.8,743.6 940.8,741.3 C939.8,739.0 939.5,737.4 939.5,735.0 C939.5,732.6 940.5,729.4 941.1,727.2 C941.7,725.0 942.0,723.7 943.0,722.0 C944.0,720.3 945.9,718.7 947.3,717.1 C948.6,715.5 950.1,714.3 951.1,712.5 C952.1,710.7 951.2,707.5 953.4,706.5 Z" fill="#fff"/><path d="M953.4,706.5 C955.6,705.5 961.1,706.1 964.2,706.3 C967.3,706.5 969.6,707.1 971.9,707.9 C974.2,708.7 976.2,709.6 978.1,711.0 C980.0,712.4 982.0,714.5 983.5,716.4 C985.0,718.3 986.6,720.7 987.4,722.5 C988.2,724.3 988.4,725.9 988.1,727.2 C987.8,728.5 986.6,728.8 985.8,730.2 C985.0,731.7 983.9,733.6 983.4,735.9 C982.9,738.2 983.4,741.7 982.5,744.0 C981.6,746.3 980.0,747.8 978.0,749.5 C976.0,751.2 973.4,753.0 970.7,754.0 C968.0,755.0 964.6,755.8 961.6,755.8 C958.6,755.8 955.3,755.2 952.6,754.0 C949.9,752.8 947.3,750.7 945.3,748.6 C943.3,746.5 941.8,743.6 940.8,741.3 C939.8,739.0 939.5,737.4 939.5,735.0 C939.5,732.6 940.5,729.4 941.1,727.2 C941.7,725.0 942.0,723.7 943.0,722.0 C944.0,720.3 945.9,718.7 947.3,717.1 C948.6,715.5 950.1,714.3 951.1,712.5 C952.1,710.7 951.2,707.5 953.4,706.5 Z" fill="url(#st)"/>
<path d="M953.4,706.5 C955.6,705.5 961.1,706.1 964.2,706.3 C967.3,706.5 969.6,707.1 971.9,707.9 C974.2,708.7 976.2,709.6 978.1,711.0 C980.0,712.4 982.0,714.5 983.5,716.4 C985.0,718.3 986.6,720.7 987.4,722.5 C988.2,724.3 988.4,725.9 988.1,727.2 C987.8,728.5 986.6,728.8 985.8,730.2 C985.0,731.7 983.9,733.6 983.4,735.9 C982.9,738.2 983.4,741.7 982.5,744.0 C981.6,746.3 980.0,747.8 978.0,749.5 C976.0,751.2 973.4,753.0 970.7,754.0 C968.0,755.0 964.6,755.8 961.6,755.8 C958.6,755.8 955.3,755.2 952.6,754.0 C949.9,752.8 947.3,750.7 945.3,748.6 C943.3,746.5 941.8,743.6 940.8,741.3 C939.8,739.0 939.5,737.4 939.5,735.0 C939.5,732.6 940.5,729.4 941.1,727.2 C941.7,725.0 942.0,723.7 943.0,722.0 C944.0,720.3 945.9,718.7 947.3,717.1 C948.6,715.5 950.1,714.3 951.1,712.5 C952.1,710.7 951.2,707.5 953.4,706.5 Z" fill="none" stroke="url(#st2)" stroke-width="8" clip-path="url(#cp3)"/>
<path d="M953.4,706.5 C955.6,705.5 961.1,706.1 964.2,706.3 C967.3,706.5 969.6,707.1 971.9,707.9 C974.2,708.7 976.2,709.6 978.1,711.0 C980.0,712.4 982.0,714.5 983.5,716.4 C985.0,718.3 986.6,720.7 987.4,722.5 C988.2,724.3 988.4,725.9 988.1,727.2 C987.8,728.5 986.6,728.8 985.8,730.2 C985.0,731.7 983.9,733.6 983.4,735.9 C982.9,738.2 983.4,741.7 982.5,744.0 C981.6,746.3 980.0,747.8 978.0,749.5 C976.0,751.2 973.4,753.0 970.7,754.0 C968.0,755.0 964.6,755.8 961.6,755.8 C958.6,755.8 955.3,755.2 952.6,754.0 C949.9,752.8 947.3,750.7 945.3,748.6 C943.3,746.5 941.8,743.6 940.8,741.3 C939.8,739.0 939.5,737.4 939.5,735.0 C939.5,732.6 940.5,729.4 941.1,727.2 C941.7,725.0 942.0,723.7 943.0,722.0 C944.0,720.3 945.9,718.7 947.3,717.1 C948.6,715.5 950.1,714.3 951.1,712.5 C952.1,710.7 951.2,707.5 953.4,706.5 Z" fill="none" stroke="#000" stroke-width="1.5" stroke-linejoin="round"/>
<clipPath id="cp4"><path d="M981.2,702.5 C979.7,702.1 974.7,701.1 971.9,700.2 C969.1,699.3 967.0,698.4 964.2,697.1 C961.4,695.8 958.2,693.6 955.0,692.5 C951.8,691.4 948.6,690.5 945.0,690.2 C941.4,689.9 936.8,690.1 933.4,690.9 C930.0,691.7 927.6,693.3 924.9,694.8 C922.2,696.3 919.2,698.3 917.0,700.0 C914.8,701.7 913.1,703.5 911.4,705.2 C909.6,706.9 907.9,708.4 906.5,710.0 C905.1,711.6 904.1,713.0 903.3,715.0 C902.5,717.0 901.9,719.6 901.6,722.0 C901.4,724.4 901.5,727.4 901.8,729.5 C902.1,731.6 902.7,732.5 903.3,734.5 C903.9,736.5 904.1,738.8 905.4,741.3 C906.7,743.8 908.8,747.1 910.9,749.5 C913.0,751.9 915.4,754.0 918.1,755.8 C920.8,757.6 923.9,759.2 927.2,760.4 C930.5,761.6 934.8,762.4 938.1,763.1 C941.4,763.9 944.5,764.2 947.1,764.9 C949.7,765.6 952.4,766.8 953.5,767.2 L947.1,756.7 L941.5,749.5 L938.5,743.0 L939.5,735.0 L941.1,727.2 L943.0,722.0 L947.3,717.1 L951.1,712.5 L952.4,706.0 L964.2,703.3 L981.2,702.5 Z"/></clipPath>
<path d="M981.2,702.5 C979.7,702.1 974.7,701.1 971.9,700.2 C969.1,699.3 967.0,698.4 964.2,697.1 C961.4,695.8 958.2,693.6 955.0,692.5 C951.8,691.4 948.6,690.5 945.0,690.2 C941.4,689.9 936.8,690.1 933.4,690.9 C930.0,691.7 927.6,693.3 924.9,694.8 C922.2,696.3 919.2,698.3 917.0,700.0 C914.8,701.7 913.1,703.5 911.4,705.2 C909.6,706.9 907.9,708.4 906.5,710.0 C905.1,711.6 904.1,713.0 903.3,715.0 C902.5,717.0 901.9,719.6 901.6,722.0 C901.4,724.4 901.5,727.4 901.8,729.5 C902.1,731.6 902.7,732.5 903.3,734.5 C903.9,736.5 904.1,738.8 905.4,741.3 C906.7,743.8 908.8,747.1 910.9,749.5 C913.0,751.9 915.4,754.0 918.1,755.8 C920.8,757.6 923.9,759.2 927.2,760.4 C930.5,761.6 934.8,762.4 938.1,763.1 C941.4,763.9 944.5,764.2 947.1,764.9 C949.7,765.6 952.4,766.8 953.5,767.2 L947.1,756.7 L941.5,749.5 L938.5,743.0 L939.5,735.0 L941.1,727.2 L943.0,722.0 L947.3,717.1 L951.1,712.5 L952.4,706.0 L964.2,703.3 L981.2,702.5 Z" fill="#fff"/><path d="M981.2,702.5 C979.7,702.1 974.7,701.1 971.9,700.2 C969.1,699.3 967.0,698.4 964.2,697.1 C961.4,695.8 958.2,693.6 955.0,692.5 C951.8,691.4 948.6,690.5 945.0,690.2 C941.4,689.9 936.8,690.1 933.4,690.9 C930.0,691.7 927.6,693.3 924.9,694.8 C922.2,696.3 919.2,698.3 917.0,700.0 C914.8,701.7 913.1,703.5 911.4,705.2 C909.6,706.9 907.9,708.4 906.5,710.0 C905.1,711.6 904.1,713.0 903.3,715.0 C902.5,717.0 901.9,719.6 901.6,722.0 C901.4,724.4 901.5,727.4 901.8,729.5 C902.1,731.6 902.7,732.5 903.3,734.5 C903.9,736.5 904.1,738.8 905.4,741.3 C906.7,743.8 908.8,747.1 910.9,749.5 C913.0,751.9 915.4,754.0 918.1,755.8 C920.8,757.6 923.9,759.2 927.2,760.4 C930.5,761.6 934.8,762.4 938.1,763.1 C941.4,763.9 944.5,764.2 947.1,764.9 C949.7,765.6 952.4,766.8 953.5,767.2 L947.1,756.7 L941.5,749.5 L938.5,743.0 L939.5,735.0 L941.1,727.2 L943.0,722.0 L947.3,717.1 L951.1,712.5 L952.4,706.0 L964.2,703.3 L981.2,702.5 Z" fill="url(#st)"/>
<path d="M981.2,702.5 C979.7,702.1 974.7,701.1 971.9,700.2 C969.1,699.3 967.0,698.4 964.2,697.1 C961.4,695.8 958.2,693.6 955.0,692.5 C951.8,691.4 948.6,690.5 945.0,690.2 C941.4,689.9 936.8,690.1 933.4,690.9 C930.0,691.7 927.6,693.3 924.9,694.8 C922.2,696.3 919.2,698.3 917.0,700.0 C914.8,701.7 913.1,703.5 911.4,705.2 C909.6,706.9 907.9,708.4 906.5,710.0 C905.1,711.6 904.1,713.0 903.3,715.0 C902.5,717.0 901.9,719.6 901.6,722.0 C901.4,724.4 901.5,727.4 901.8,729.5 C902.1,731.6 902.7,732.5 903.3,734.5 C903.9,736.5 904.1,738.8 905.4,741.3 C906.7,743.8 908.8,747.1 910.9,749.5 C913.0,751.9 915.4,754.0 918.1,755.8 C920.8,757.6 923.9,759.2 927.2,760.4 C930.5,761.6 934.8,762.4 938.1,763.1 C941.4,763.9 944.5,764.2 947.1,764.9 C949.7,765.6 952.4,766.8 953.5,767.2 L947.1,756.7 L941.5,749.5 L938.5,743.0 L939.5,735.0 L941.1,727.2 L943.0,722.0 L947.3,717.1 L951.1,712.5 L952.4,706.0 L964.2,703.3 L981.2,702.5 Z" fill="none" stroke="url(#st2)" stroke-width="8" clip-path="url(#cp4)"/>
<path d="M981.2,702.5 C979.7,702.1 974.7,701.1 971.9,700.2 C969.1,699.3 967.0,698.4 964.2,697.1 C961.4,695.8 958.2,693.6 955.0,692.5 C951.8,691.4 948.6,690.5 945.0,690.2 C941.4,689.9 936.8,690.1 933.4,690.9 C930.0,691.7 927.6,693.3 924.9,694.8 C922.2,696.3 919.2,698.3 917.0,700.0 C914.8,701.7 913.1,703.5 911.4,705.2 C909.6,706.9 907.9,708.4 906.5,710.0 C905.1,711.6 904.1,713.0 903.3,715.0 C902.5,717.0 901.9,719.6 901.6,722.0 C901.4,724.4 901.5,727.4 901.8,729.5 C902.1,731.6 902.7,732.5 903.3,734.5 C903.9,736.5 904.1,738.8 905.4,741.3 C906.7,743.8 908.8,747.1 910.9,749.5 C913.0,751.9 915.4,754.0 918.1,755.8 C920.8,757.6 923.9,759.2 927.2,760.4 C930.5,761.6 934.8,762.4 938.1,763.1 C941.4,763.9 944.5,764.2 947.1,764.9 C949.7,765.6 952.4,766.8 953.5,767.2 L947.1,756.7 L941.5,749.5 L938.5,743.0 L939.5,735.0 L941.1,727.2 L943.0,722.0 L947.3,717.1 L951.1,712.5 L952.4,706.0 L964.2,703.3 L981.2,702.5 Z" fill="none" stroke="#000" stroke-width="1.7" stroke-linejoin="round"/>
<path d="M925.7,699.4 C927.5,699.2 933.9,698.2 936.5,698.3 C939.1,698.4 939.1,699.5 941.1,700.2 C943.1,700.9 947.0,701.6 948.8,702.5 C950.6,703.4 951.4,705.1 951.9,705.6" fill="none" stroke="#000" stroke-width="1.75" stroke-linecap="round"/>
<path d="M918.0,714.8 C919.3,715.1 923.1,715.9 925.7,716.4 C928.3,716.9 930.7,717.3 933.4,717.9 C936.1,718.5 940.5,719.8 941.9,720.2" fill="none" stroke="#000" stroke-width="1.55" stroke-linecap="round"/>
<path d="M918.0,710.2 C920.6,710.5 929.5,710.9 933.4,711.7 C937.2,712.5 939.8,714.3 941.1,714.8" fill="none" stroke="#111" stroke-width="1.10" stroke-linecap="round"/>
<path d="M914.0,719.5 C915.3,720.0 919.4,721.6 922.0,722.6 C924.6,723.6 926.6,724.1 929.6,725.6 C932.6,727.1 938.5,730.8 940.3,731.8" fill="none" stroke="#000" stroke-width="1.45" stroke-linecap="round"/>
<path d="M910.9,729.5 C911.8,730.4 914.3,733.3 916.0,735.0 C917.7,736.7 918.6,738.5 920.9,739.5 C923.2,740.5 927.3,740.7 929.9,741.3 C932.5,741.9 935.2,742.8 936.3,743.1" fill="none" stroke="#000" stroke-width="1.65" stroke-linecap="round"/>
<path d="M947.3,723.3 C948.8,723.9 953.0,726.1 956.5,727.2 C960.0,728.4 963.9,729.3 968.1,730.2 C972.4,731.1 979.7,732.2 982.0,732.6" fill="none" stroke="#000" stroke-width="1.55" stroke-linecap="round"/>
<path d="M955.0,718.7 C956.3,719.3 960.3,721.2 963.0,722.5 C965.7,723.8 969.8,725.8 971.2,726.4" fill="none" stroke="#000" stroke-width="1.35" stroke-linecap="round"/>
<path d="M948.8,732.6 C950.7,732.8 956.4,733.5 960.0,734.0 C963.6,734.5 968.7,735.3 970.4,735.6" fill="none" stroke="#000" stroke-width="1.25" stroke-linecap="round"/>
<text x="527.7" y="162" font-family="Liberation Sans, Noto Sans CJK JP, sans-serif" font-weight="bold" font-size="20" letter-spacing="1.9">千鳥浜王喜海岸にやってきたつがい数の変化</text>
</svg>
</body></html>
